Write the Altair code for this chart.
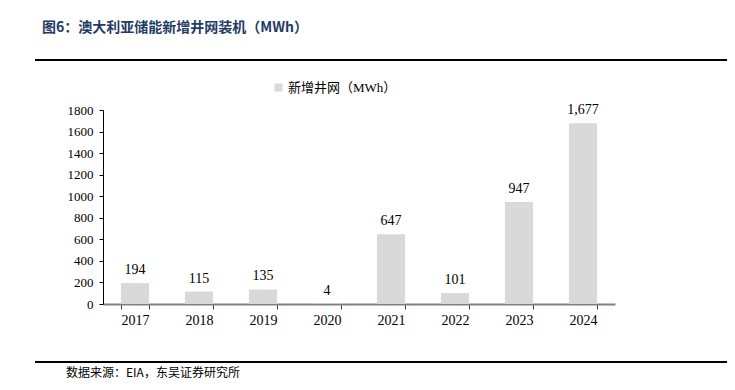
import altair as alt
import pandas as pd

years = ["2017", "2018", "2019", "2020", "2021", "2022", "2023", "2024"]
values = [194, 115, 135, 4, 647, 101, 947, 1677]
y_ticks = [0, 200, 400, 600, 800, 1000, 1200, 1400, 1600, 1800]
series_name = "新增井网（MWh）"
title_text = "图6：澳大利亚储能新增井网装机（MWh）"
source_text = "数据来源：EIA，东吴证券研究所"

df = pd.DataFrame({"year": years, "value": values, "series": [series_name] * len(years)})

SERIF = "Liberation Serif, Times New Roman, Noto Sans CJK SC"
CJK = "Noto Sans CJK SC"

base = alt.Chart(df)

x_enc = alt.X(
    "year:N",
    sort=years,
    title=None,
    scale=alt.Scale(paddingInner=0.56, paddingOuter=0.28),
    axis=alt.Axis(labelAngle=0, tickBand="extent"),
)
y_enc = alt.Y(
    "value:Q",
    title=None,
    scale=alt.Scale(domain=[0, 1800], nice=False),
    axis=alt.Axis(values=y_ticks, format="d", labelOverlap=False),
)

bars = base.mark_bar(color="#d9d9d9").encode(
    x=x_enc,
    y=y_enc,
    color=alt.Color(
        "series:N",
        scale=alt.Scale(range=["#d9d9d9"]),
        legend=alt.Legend(
            title=None,
            orient="none",
            legendX=169,
            legendY=-29,
            symbolType="square",
            symbolSize=64,
            symbolStrokeWidth=0,
            labelFont=SERIF,
            labelFontSize=13,
            labelColor="#000000",
            labelOffset=3,
            padding=0,
        ),
    ),
)

labels = base.mark_text(
    baseline="alphabetic", dy=-9, font=SERIF, fontSize=14, color="#000000"
).encode(
    x=x_enc,
    y=y_enc,
    text=alt.Text("value:Q", format=","),
)

title = alt.Chart(pd.DataFrame({"t": [title_text]})).mark_text(
    align="left", baseline="middle", font=CJK, fontSize=14, fontWeight="bold", color="#1F3C64"
).encode(x=alt.value(-61), y=alt.value(-82), text="t:N")

source = alt.Chart(pd.DataFrame({"t": [source_text]})).mark_text(
    align="left", baseline="middle", font=CJK, fontSize=12, color="#000000"
).encode(x=alt.value(-37), y=alt.value(263), text="t:N")

top_line = alt.Chart(pd.DataFrame({"a": [0]})).mark_rule(color="#000000", strokeWidth=2).encode(
    x=alt.value(-68), x2=alt.value(640), y=alt.value(-50)
)
bottom_line = alt.Chart(pd.DataFrame({"a": [0]})).mark_rule(color="#000000", strokeWidth=2).encode(
    x=alt.value(-68), x2=alt.value(640), y=alt.value(252)
)

chart = (
    alt.layer(bars, labels, title, source, top_line, bottom_line)
    .properties(
        width=512,
        height=194,
        background="white",
        view=alt.ViewBackground(strokeWidth=0, strokeOpacity=0, stroke="transparent"),
        autosize=alt.AutoSizeParams(type="none"),
        padding={"left": 95, "top": 102, "right": 112, "bottom": 80},
    )
    .configure_view(stroke="transparent", strokeWidth=0, strokeOpacity=0)
    .configure_axis(grid=False, labelColor="#000000", labelFont=SERIF)
    .configure_axisX(
        labelFont=SERIF,
        labelFontSize=14,
        labelPadding=4,
        tickSize=5,
        tickColor="#404040",
        domainColor="#808080",
        domainWidth=2,
        grid=False,
    )
    .configure_axisY(
        labelFont=SERIF,
        labelFontSize=13,
        labelPadding=6,
        tickSize=4,
        tickColor="#000000",
        domainColor="#000000",
        domainWidth=1,
        grid=False,
    )
)

chart.save("out.html", embed_options={"renderer": "svg", "actions": False})
